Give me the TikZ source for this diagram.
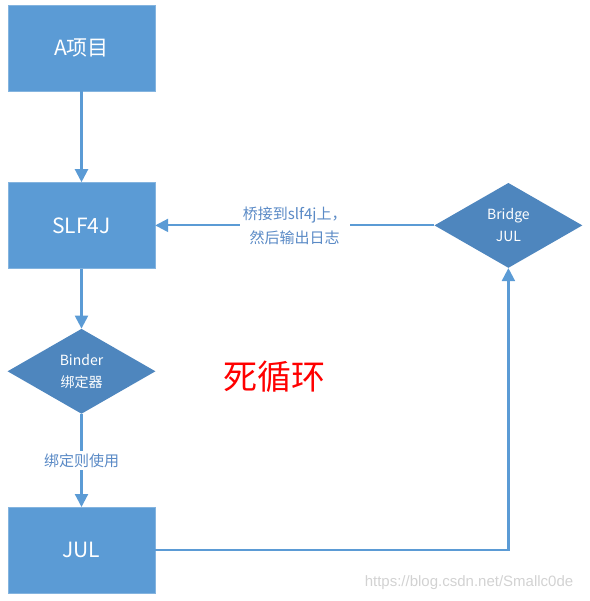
\documentclass[tikz,border=0pt]{standalone}
\usepackage{fontspec}
\setmainfont{Noto Sans CJK SC}
\newfontfamily\markfont{Liberation Sans}
\usetikzlibrary{arrows.meta, positioning, shapes.geometric}

\definecolor{boxblue}{HTML}{5B9BD5}
\definecolor{diamondblue}{HTML}{4E86BE}
\definecolor{labelblue}{HTML}{5A8AC6}

\begin{document}
\begin{tikzpicture}[x=1pt, y=1pt,
    box/.style={rectangle, fill=boxblue, draw=boxblue!75!white, minimum width=147pt, minimum height=86pt, text=white, font=\fontsize{21}{22}\selectfont},
    choice/.style={diamond, fill=diamondblue, minimum width=148pt, minimum height=85pt, inner sep=0pt, text=white, align=center, font=\fontsize{14}{22}\selectfont},
    flow/.style={-{Triangle[length=13pt,width=13pt]}, draw=boxblue, line width=2.2pt},
    tag/.style={fill=white, text=labelblue, align=center, inner sep=3pt, font=\fontsize{15}{24}\selectfont}]

    \useasboundingbox (0,0) rectangle (589,-601);

    \node[box] (proj) at (81.5,-48) {A项目};
    \node[box, below=91pt of proj] (slf) {SLF4J};
    \draw[flow] (proj.south) -- (slf.north);

    \node[choice, below=60pt of slf] (binder) {Binder\\绑定器};
    \draw[flow] (slf.south) -- (binder.north);

    \node[box, below=93pt of binder] (jul) {JUL};
    \draw[flow] (binder.south) -- node[midway, tag] {绑定则使用} (jul.north);

    \node[choice, right=279pt of slf] (bridge) {Bridge\\JUL};
    \draw[flow] (bridge.west) -- node[midway, tag] {桥接到slf4j上，\\然后输出日志} (slf.east);
    \draw[flow] (jul.east) -| (bridge.south);

    \node[text=red, font=\fontsize{34}{36}\selectfont] (loop) at (274,-377) {死循环};
    \node[text=gray!35, font=\markfont\fontsize{15}{16}\selectfont] (mark) at (469,-583) {https://blog.csdn.net/Smallc0de};
\end{tikzpicture}
\end{document}
